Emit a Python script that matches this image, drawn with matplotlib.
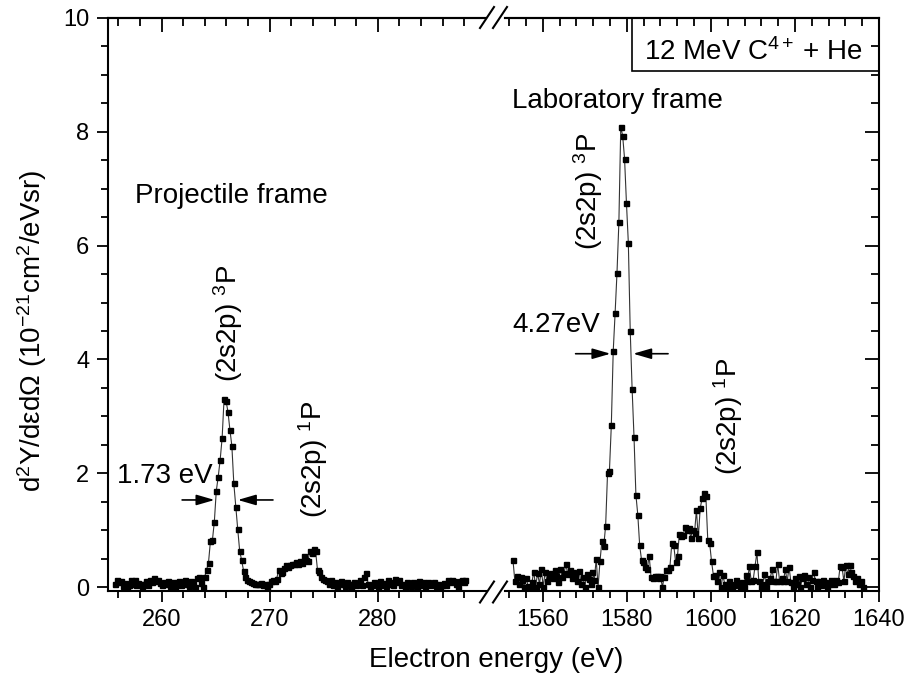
import numpy as np
import matplotlib
matplotlib.use('Agg')
import matplotlib.pyplot as plt
from matplotlib.ticker import MultipleLocator, FixedLocator
from matplotlib.patches import Rectangle
from matplotlib.lines import Line2D

plt.rcParams['font.family'] = ['Liberation Sans', 'DejaVu Sans']
plt.rcParams['mathtext.fontset'] = 'custom'
plt.rcParams['mathtext.rm'] = 'Liberation Sans'
plt.rcParams['mathtext.it'] = 'Liberation Sans:italic'
plt.rcParams['mathtext.bf'] = 'Liberation Sans:bold'

# projectile frame spectrum (eV grid start / step, yields)
proj_e0 = 255.7
proj_step = 0.18
proj_y = [
    0.05, 0.12, 0.08, 0.10, 0.02, 0.07, 0.00, 0.03, 0.13, 0.05,
    0.13, 0.03, 0.07, 0.05, 0.00, 0.06, 0.10, 0.04, 0.12, 0.08,
    0.15, 0.10, 0.12, 0.07, 0.03, 0.09, 0.05, 0.10, 0.02, 0.08,
    0.04, 0.00, 0.08, 0.11, 0.03, 0.07, 0.12, 0.05, 0.02, 0.10,
    0.06, 0.00, 0.16, 0.18, 0.07,
    0.00, 0.17, 0.30, 0.43, 0.81, 0.82, 1.15, 1.69, 1.94, 2.24, 2.62, 3.31,
    3.27, 3.08, 2.76, 2.48, 1.82, 1.41, 1.02, 0.64, 0.47, 0.29, 0.18, 0.13,
    0.10, 0.08, 0.07, 0.05, 0.06, 0.05, 0.07, 0.04, 0.06, 0.00,
    0.05, 0.10, 0.12, 0.10, 0.14, 0.30, 0.24, 0.26, 0.34, 0.38,
    0.36, 0.38, 0.41, 0.40, 0.44, 0.41, 0.45, 0.42, 0.55, 0.47,
    0.45, 0.63, 0.60, 0.67, 0.63, 0.30, 0.27, 0.18, 0.14, 0.12,
    0.10, 0.06, 0.12, 0.04, 0.08, 0.00, 0.07, 0.10, 0.05, 0.02,
    0.08, 0.06, 0.00, 0.05, 0.09, 0.03, 0.07, 0.12, 0.04, 0.17,
    0.25, 0.06, 0.00, 0.03, 0.08, 0.05, 0.00, 0.10, 0.04, 0.07,
    0.02, 0.13, 0.06, 0.09, 0.03, 0.14, 0.08, 0.12, 0.03, 0.06,
    0.00, 0.09, 0.05, 0.02, 0.08, 0.07, 0.00, 0.10, 0.04, 0.09,
    0.01, 0.06, 0.08, 0.03, 0.05, 0.09, 0.02, 0.06, 0.00, 0.04,
    0.07, 0.03, 0.13, 0.08, 0.12, 0.10, 0.05, 0.00, 0.10, 0.13,
    0.08, 0.12,
]

# laboratory frame spectrum
lab_e0 = 1552.9
lab_step = 0.45
lab_y = [
    0.47,
    0.10, 0.20, 0.05, 0.18, 0.13, 0.00, 0.15, 0.02, 0.00, 0.08,
    0.27, 0.00, 0.25, 0.05, 0.31, 0.00, 0.27, 0.10, 0.20, 0.25,
    0.15, 0.30, 0.20, 0.08, 0.32, 0.18, 0.25, 0.40, 0.22, 0.30,
    0.16, 0.26, 0.20, 0.10, 0.28, 0.05, 0.18, 0.00, 0.22, 0.14,
    0.05, 0.26, 0.12,
    0.49, 0.00, 0.45, 0.80, 0.72, 1.08, 2.00, 2.04, 2.84, 4.14, 4.81, 5.52, 6.41, 8.09,
    7.93, 7.53, 6.75, 6.05, 4.50, 3.48, 2.64, 1.62, 1.27, 0.73, 0.47, 0.44, 0.35, 0.32, 0.55,
    0.18, 0.15, 0.19, 0.19, 0.15, 0.19, 0.00, 0.18, 0.30, 0.30, 0.36,
    0.77, 0.74, 0.44, 0.55, 0.94, 0.90, 0.92, 1.05, 1.00, 1.04, 0.87, 1.00,
    0.95, 1.35, 0.87, 1.38, 1.56, 1.65, 1.60, 0.83, 0.77, 0.45, 0.20,
    0.21, 0.10, 0.27, 0.00, 0.21, 0.05, 0.00, 0.10, 0.06, 0.00,
    0.03, 0.13, 0.05, 0.00, 0.08, 0.00, 0.21, 0.10, 0.37, 0.10,
    0.12, 0.37, 0.61, 0.10, 0.00, 0.05, 0.22, 0.00, 0.10, 0.15,
    0.31, 0.10, 0.10, 0.40, 0.10, 0.15, 0.10, 0.31, 0.10, 0.35,
    0.08, 0.00, 0.15, 0.05, 0.20, 0.00, 0.16, 0.21, 0.05, 0.18,
    0.00, 0.12, 0.26, 0.10, 0.00, 0.10, 0.03, 0.12, 0.08, 0.00,
    0.06, 0.12, 0.10, 0.05, 0.12, 0.08, 0.37, 0.35, 0.10, 0.39,
    0.22, 0.38, 0.27, 0.20, 0.10, 0.15, 0.05, 0.10, 0.00,
]

proj_e = proj_e0 + proj_step * np.arange(len(proj_y))
lab_e = lab_e0 + lab_step * np.arange(len(lab_y))

W, H = 907, 684
fig = plt.figure(figsize=(W / 100, H / 100), dpi=100)
bot = (H - 591) / H
hgt = 573 / H
axL = fig.add_axes([107.5 / W, bot, (486 - 107.5) / W, hgt])
axR = fig.add_axes([505 / W, bot, (879 - 505) / W, hgt])

style = dict(color='#333333', lw=0.8, marker='s', ms=3.6, mfc='black', mec='black')
axL.plot(proj_e, proj_y, **style)
axR.plot(lab_e, lab_y, **style)

axL.set_xlim(255, 290)
axR.set_xlim(1551, 1640)
for ax in (axL, axR):
    ax.set_ylim(-0.07, 10)
    for s in ax.spines.values():
        s.set_linewidth(1.5)
axL.spines['right'].set_visible(False)
axR.spines['left'].set_visible(False)

tick_kw = dict(width=1.3, labelsize=17)
# left panel
axL.xaxis.set_major_locator(FixedLocator([260, 270, 280]))
axL.xaxis.set_minor_locator(FixedLocator(np.arange(256, 289, 2)))
axL.yaxis.set_major_locator(MultipleLocator(2))
axL.yaxis.set_minor_locator(MultipleLocator(0.5))
axL.tick_params(axis='both', which='major', direction='out', length=8, pad=5, **tick_kw)
axL.tick_params(axis='both', which='minor', direction='out', length=5, width=1.3)
axL.tick_params(axis='x', top=False, which='both')
secL = axL.secondary_xaxis('top')
secL.xaxis.set_major_locator(FixedLocator([260, 270, 280]))
secL.xaxis.set_minor_locator(FixedLocator(np.arange(256, 289, 2)))
secL.tick_params(which='major', direction='in', length=10, width=1.3, labeltop=False)
secL.tick_params(which='minor', direction='in', length=6, width=1.3)
secL.spines['top'].set_linewidth(1.5)

# right panel
axR.xaxis.set_major_locator(MultipleLocator(20))
axR.xaxis.set_minor_locator(MultipleLocator(4))
axR.yaxis.set_major_locator(MultipleLocator(2))
axR.yaxis.set_minor_locator(MultipleLocator(0.5))
axR.tick_params(axis='x', which='major', direction='out', length=8, pad=5, **tick_kw)
axR.tick_params(axis='x', which='minor', direction='out', length=5, width=1.3)
axR.tick_params(axis='y', which='both', left=False, labelleft=False, right=True,
                direction='in', width=1.3)
axR.tick_params(axis='y', which='major', length=10)
axR.tick_params(axis='y', which='minor', length=6)
secR = axR.secondary_xaxis('top')
secR.xaxis.set_major_locator(MultipleLocator(20))
secR.xaxis.set_minor_locator(MultipleLocator(4))
secR.tick_params(which='major', direction='in', length=10, width=1.3, labeltop=False)
secR.tick_params(which='minor', direction='in', length=6, width=1.3)
secR.spines['top'].set_linewidth(1.5)

# axis break marks
for yc in (17.5, 592):
    for x0 in (480, 493):
        fig.add_artist(Line2D([x0 / W, (x0 + 14) / W],
                              [1 - (yc + 10.5) / H, 1 - (yc - 10.5) / H],
                              color='black', lw=1.5))

fs = 20
fig.text(32 / W, 1 - 331 / H,
         'd$^{\\mathregular{2}}$Y/d\u03b5d\u03a9 (10$^{\\mathregular{-21}}$cm$^{\\mathregular{2}}$/eVsr)',
         rotation=90, ha='center', va='center', fontsize=fs)
fig.text(496 / W, 1 - 660 / H, 'Electron energy (eV)', ha='center', va='center', fontsize=fs)

# annotations, projectile frame
axL.text(257.5, 6.75, 'Projectile frame', fontsize=fs, ha='left', va='baseline')
axL.text(266.13, 3.60, '(2s2p) $^{\\mathregular{3}}$P', rotation=90, fontsize=fs,
         ha='center', va='bottom')
axL.text(273.98, 1.21, '(2s2p) $^{\\mathregular{1}}$P', rotation=90, fontsize=fs,
         ha='center', va='bottom')
axL.text(255.85, 1.83, '1.73 eV', fontsize=fs, ha='left', va='baseline')
arrow = dict(arrowstyle='-|>,head_length=0.55,head_width=0.16', color='black', lw=1.2,
             shrinkA=0, shrinkB=0, mutation_scale=20)
axL.annotate('', xy=(264.9, 1.53), xytext=(261.9, 1.53), arrowprops=arrow)
axL.annotate('', xy=(267.05, 1.53), xytext=(270.3, 1.53), arrowprops=arrow)

# annotations, laboratory frame
axR.text(1552.7, 8.42, 'Laboratory frame', fontsize=fs, ha='left', va='baseline')
axR.text(1570.85, 5.93, '(2s2p) $^{\\mathregular{3}}$P', rotation=90, fontsize=fs,
         ha='center', va='bottom')
axR.text(1604.1, 1.97, '(2s2p) $^{\\mathregular{1}}$P', rotation=90, fontsize=fs,
         ha='center', va='bottom')
axR.text(1573.7, 4.48, '4.27eV', fontsize=fs, ha='right', va='baseline')
axR.annotate('', xy=(1576.1, 4.10), xytext=(1567.8, 4.10), arrowprops=arrow)
axR.annotate('', xy=(1581.5, 4.10), xytext=(1589.8, 4.10), arrowprops=arrow)

# label box
axR.add_patch(Rectangle((0.339, 0.9075), 0.661, 0.0925, transform=axR.transAxes,
                        fill=False, lw=1.2, ec='black', clip_on=False))
axR.text(0.663, 0.927, '12 MeV C$^{\\mathregular{4+}}$\u2009+ He', transform=axR.transAxes,
         fontsize=fs, ha='center', va='baseline')

fig.savefig('out.png', dpi=100)
